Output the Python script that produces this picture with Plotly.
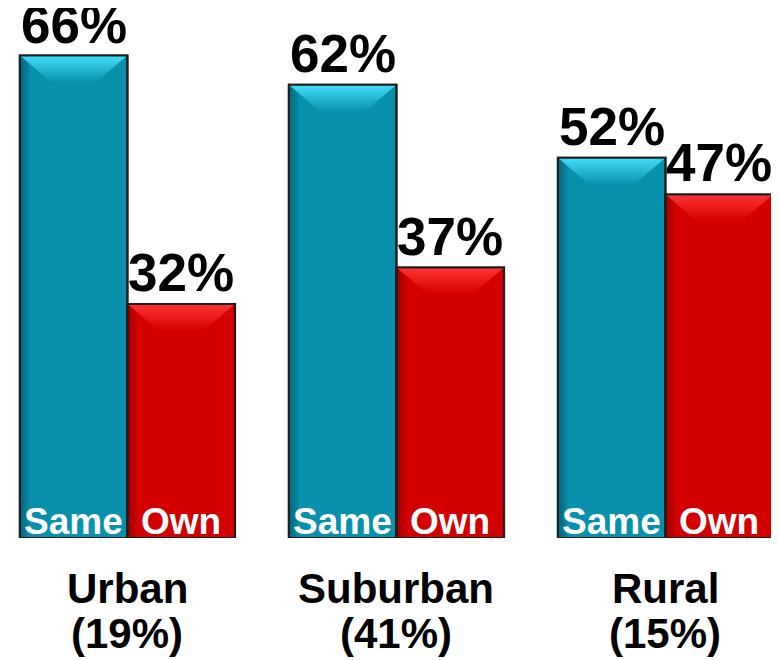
import plotly.graph_objects as go

categories = ["Urban", "Suburban", "Rural"]
category_shares = ["(19%)", "(41%)", "(15%)"]
same_values = [66, 62, 52]
own_values = [32, 37, 47]
series_names = ["Same", "Own"]

FONT = "Arial, Liberation Sans, sans-serif"
BLUE = "#0890ad"
BLUE_LIGHT = "#42def9"
RED = "#d20000"
RED_LIGHT = "#ff3434"
OUTLINE = "#1e1e1e"
BAR_W = 0.4
BEVEL_DX = 0.118
BEVEL_DY = 3.7
EDGE_DX = 0.04

xs = list(range(len(categories)))

fig = go.Figure()

def add_series(values, name, color, offset):
    fig.add_trace(go.Bar(
        x=xs, y=values, width=BAR_W, offset=offset, name=name,
        marker=dict(color=color, line=dict(color=OUTLINE, width=2)),
        hoverinfo="skip", showlegend=False,
    ))

add_series(same_values, series_names[0], BLUE, -BAR_W)
add_series(own_values, series_names[1], RED, 0)

def add_bevels(values, offset, base, light, dark_edge):
    for i, v in zip(xs, values):
        x0 = i + offset
        x1 = x0 + BAR_W
        fig.add_trace(go.Scatter(
            x=[x0, x0 + EDGE_DX, x0 + EDGE_DX, x0, x0],
            y=[0, 0, v, v, 0], mode="lines", line=dict(width=0),
            fill="toself",
            fillgradient=dict(type="horizontal", start=x0, stop=x0 + EDGE_DX,
                              colorscale=[[0, dark_edge], [1, "rgba(0,0,0,0)"]]),
            hoverinfo="skip", showlegend=False,
        ))
        fig.add_trace(go.Scatter(
            x=[x0, x1, x1 - BEVEL_DX, x0 + BEVEL_DX, x0],
            y=[v, v, v - BEVEL_DY, v - BEVEL_DY, v], mode="lines",
            line=dict(width=0), fill="toself",
            fillgradient=dict(type="vertical", start=v - BEVEL_DY, stop=v,
                              colorscale=[[0, base], [1, light]]),
            hoverinfo="skip", showlegend=False,
        ))
        fig.add_trace(go.Scatter(
            x=[x0, x0, x1, x1], y=[0, v, v, 0], mode="lines",
            line=dict(color=OUTLINE, width=2),
            hoverinfo="skip", showlegend=False,
        ))

add_bevels(same_values, -BAR_W, BLUE, BLUE_LIGHT, "rgba(0,60,80,0.45)")
add_bevels(own_values, 0, RED, RED_LIGHT, "rgba(90,0,0,0.35)")

annotations = []
for i, (s, o) in enumerate(zip(same_values, own_values)):
    for v, off, nm in ((s, -BAR_W / 2, series_names[0]), (o, BAR_W / 2, series_names[1])):
        annotations.append(dict(
            x=i + off, y=v, xref="x", yref="y", text=f"<b>{v}%</b>",
            showarrow=False, yanchor="bottom", xanchor="center", yshift=0,
            font=dict(family=FONT, size=53, color="black"),
        ))
        annotations.append(dict(
            x=i + off, y=0, xref="x", yref="y", text=f"<b>{nm}</b>",
            showarrow=False, yanchor="bottom", xanchor="center", yshift=-6,
            font=dict(family=FONT, size=37, color="white"),
        ))
    annotations.append(dict(
        x=i, y=0, xref="x", yref="y", text=f"<b>{categories[i]}</b>",
        showarrow=False, yanchor="top", xanchor="center", yshift=-25,
        font=dict(family=FONT, size=42, color="black"),
    ))
    annotations.append(dict(
        x=i, y=0, xref="x", yref="y", text=f"<b>{category_shares[i]}</b>",
        showarrow=False, yanchor="top", xanchor="center", yshift=-70,
        font=dict(family=FONT, size=42, color="black"),
    ))

fig.update_layout(
    width=771, height=652,
    margin=dict(l=0, r=0, t=0, b=122),
    paper_bgcolor="white", plot_bgcolor="white",
    barmode="overlay",
    xaxis=dict(range=[-0.444, 2.422], showgrid=False, zeroline=False,
               showticklabels=False, showline=False, fixedrange=True),
    yaxis=dict(range=[0, 72.5], showgrid=False, zeroline=False,
               showticklabels=False, showline=False, fixedrange=True),
    annotations=annotations,
)

fig.write_html("out.html")
